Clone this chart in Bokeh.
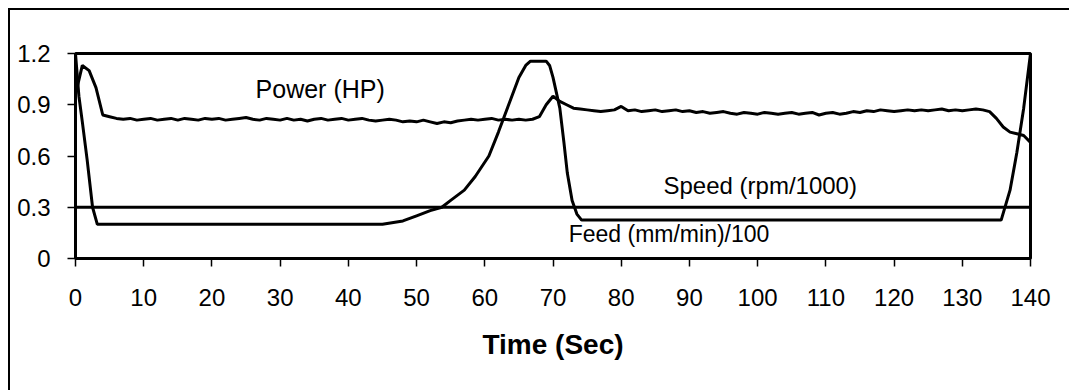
from bokeh.plotting import figure
from bokeh.models import FixedTicker, Range1d
from bokeh.core.properties import value
from bokeh.embed import file_html
from bokeh.resources import INLINE

# ---- data ----
x_ticks = [0, 10, 20, 30, 40, 50, 60, 70, 80, 90, 100, 110, 120, 130, 140]
y_ticks = [0, 0.3, 0.6, 0.9, 1.2]

speed_t = [0, 140]
speed_v = [0.3, 0.3]

feed_t = [0, 0.5, 1, 1.7, 2.5, 3.2, 45, 48, 50, 52, 53.7, 55, 57, 58.6, 60.6, 62,
          63.5, 65, 66, 66.7, 69, 69.5, 70, 71, 71.6, 72.1, 72.8, 73.5, 74.2,
          135.7, 137, 138, 139, 140]
feed_v = [1.2, 0.95, 0.8, 0.58, 0.3, 0.2, 0.2, 0.22, 0.25, 0.28, 0.30, 0.34, 0.40,
          0.48, 0.60, 0.74, 0.90, 1.06, 1.13, 1.155, 1.155, 1.13, 1.06, 0.88, 0.68,
          0.5, 0.34, 0.26, 0.225, 0.225, 0.40, 0.62, 0.88, 1.2]

power_t = list(range(0, 141))
power_v = [
    0.96, 1.13, 1.10, 1.00, 0.84, 0.83, 0.82, 0.815, 0.82, 0.81,   # 0-9
    0.815, 0.82, 0.81, 0.815, 0.82, 0.81, 0.82, 0.815, 0.81, 0.82,  # 10-19
    0.815, 0.82, 0.81, 0.815, 0.82, 0.825, 0.815, 0.81, 0.82, 0.815,  # 20-29
    0.81, 0.82, 0.81, 0.815, 0.805, 0.815, 0.82, 0.81, 0.815, 0.82,  # 30-39
    0.81, 0.815, 0.82, 0.81, 0.805, 0.81, 0.815, 0.81, 0.80, 0.805,  # 40-49
    0.80, 0.81, 0.80, 0.79, 0.80, 0.795, 0.805, 0.81, 0.815, 0.81,  # 50-59
    0.815, 0.82, 0.81, 0.815, 0.81, 0.815, 0.81, 0.815, 0.83, 0.90,  # 60-69
    0.95, 0.92, 0.90, 0.88, 0.875, 0.87, 0.865, 0.86, 0.865, 0.87,  # 70-79
    0.89, 0.865, 0.87, 0.86, 0.865, 0.87, 0.86, 0.865, 0.87, 0.86,  # 80-89
    0.865, 0.855, 0.86, 0.85, 0.855, 0.86, 0.85, 0.845, 0.855, 0.85,  # 90-99
    0.845, 0.855, 0.85, 0.845, 0.85, 0.855, 0.845, 0.85, 0.855, 0.84,  # 100-109
    0.85, 0.855, 0.845, 0.85, 0.86, 0.855, 0.865, 0.86, 0.87, 0.865,  # 110-119
    0.86, 0.865, 0.87, 0.865, 0.87, 0.865, 0.87, 0.875, 0.865, 0.87,  # 120-129
    0.865, 0.87, 0.875, 0.87, 0.86, 0.82, 0.77, 0.74, 0.73, 0.72,   # 130-139
    0.68,                                                            # 140
]

labels_text = ["Power (HP)", "Speed (rpm/1000)", "Feed (mm/min)/100"]
labels_x = [26.4, 86.2, 72.3]
labels_y = [0.99, 0.43, 0.145]
labels_size = ["25px", "24px", "23px"]

FONT = "Liberation Sans"

p = figure(width=1069, height=390, output_backend="svg", toolbar_location=None,
           x_range=Range1d(0, 140), y_range=Range1d(0, 1.2),
           min_border_left=75, min_border_right=39, min_border_top=53,
           min_border_bottom=132)
p.background_fill_color = "white"
p.border_fill_color = None
p.grid.visible = False
p.outline_line_color = "black"
p.outline_line_width = 3

for ax in (p.xaxis[0], p.yaxis[0]):
    ax.axis_line_width = 3
    ax.axis_line_color = "black"
    ax.major_tick_line_width = 1.5
    ax.major_tick_in = 0
    ax.major_tick_out = 8
    ax.minor_tick_line_color = None
    ax.major_label_text_font = FONT
    ax.major_label_text_font_size = "24px"
    ax.major_label_text_color = "black"

p.xaxis.ticker = FixedTicker(ticks=x_ticks)
p.yaxis.ticker = FixedTicker(ticks=y_ticks)
p.yaxis.major_label_overrides = {0: "0", 0.3: "0.3", 0.6: "0.6", 0.9: "0.9", 1.2: "1.2"}
p.xaxis.major_label_standoff = 22
p.yaxis.major_label_standoff = 17
p.xaxis.axis_label = "Time (Sec)"
p.xaxis.axis_label_text_font = FONT
p.xaxis.axis_label_text_font_size = "28px"
p.xaxis.axis_label_text_font_style = "bold"
p.xaxis.axis_label_text_color = "black"
p.xaxis.axis_label_standoff = 20

p.line(speed_t, speed_v, line_color="black", line_width=3)
p.line(feed_t, feed_v, line_color="black", line_width=3)
p.line(power_t, power_v, line_color="black", line_width=3)

p.text(x=labels_x, y=labels_y, text=labels_text, text_font=value(FONT),
       text_font_size=labels_size, text_align="left", text_baseline="middle",
       text_color="black")

# outer page frame (left and top edges only, as in the scanned original)
p.styles = {
    "background": ("linear-gradient(#000, #000) 8px 8px / 2px 382px no-repeat, "
                   "linear-gradient(#000, #000) 8px 8px / 1061px 2px no-repeat, #fff"),
}

open("out.html", "w").write(file_html(p, INLINE))
